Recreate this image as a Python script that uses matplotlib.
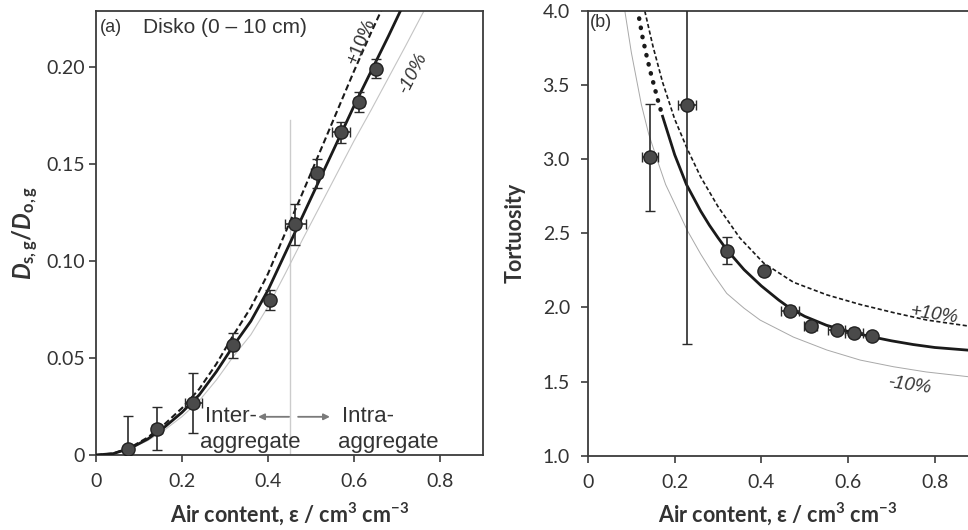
import matplotlib
matplotlib.use("Agg")
import matplotlib.pyplot as plt

plt.rcParams['font.family'] = ['Lato', 'DejaVu Sans']
plt.rcParams['mathtext.fontset'] = 'custom'
plt.rcParams['mathtext.it'] = 'Lato:bold:italic'
plt.rcParams['mathtext.rm'] = 'Lato:bold'
plt.rcParams['mathtext.bf'] = 'Lato:bold'

# ---------------- Panel (a) data ----------------
a_eps = [0.0744, 0.142, 0.226, 0.319, 0.405, 0.4636, 0.513, 0.570, 0.611, 0.651]
a_D = [0.003, 0.0136, 0.027, 0.0565, 0.080, 0.1189, 0.1452, 0.1664, 0.1821, 0.1993]
a_Derr = [0.017, 0.011, 0.0155, 0.0065, 0.005, 0.0105, 0.0077, 0.0055, 0.005, 0.005]
a_epserr = [0.005, 0.012, 0.02, 0.01, 0.005, 0.025, 0.012, 0.021, 0.012, 0.008]

a_fit_x = [0, 0.04, 0.08, 0.12, 0.16, 0.20, 0.24, 0.28, 0.32, 0.36, 0.40, 0.44,
           0.48, 0.52, 0.56, 0.60, 0.64, 0.68, 0.71]
a_fit_y = [0, 0.0007, 0.0035, 0.0082, 0.0145, 0.022, 0.031, 0.043, 0.0565, 0.069,
           0.085, 0.104, 0.123, 0.142, 0.161, 0.180, 0.198, 0.216, 0.230]
a_plus_x = [0, 0.04, 0.08, 0.12, 0.16, 0.20, 0.24, 0.28, 0.32, 0.36, 0.40, 0.44,
            0.48, 0.52, 0.56, 0.60, 0.64, 0.665]
a_plus_y = [0, 0.0008, 0.0039, 0.009, 0.016, 0.0242, 0.034, 0.047, 0.062, 0.076,
            0.0935, 0.1145, 0.135, 0.156, 0.177, 0.198, 0.218, 0.230]
a_minus_x = [0, 0.04, 0.08, 0.12, 0.16, 0.20, 0.24, 0.28, 0.32, 0.36, 0.40, 0.44,
             0.48, 0.52, 0.56, 0.60, 0.64, 0.68, 0.72, 0.765]
a_minus_y = [0, 0.0006, 0.0032, 0.0074, 0.013, 0.0198, 0.028, 0.0387, 0.051, 0.062,
             0.0765, 0.0935, 0.111, 0.128, 0.145, 0.162, 0.178, 0.1945, 0.211, 0.230]
a_boundary = 0.451
a_boundary_top = 0.1727

# ---------------- Panel (b) data ----------------
b_eps = [0.143, 0.229, 0.320, 0.405, 0.466, 0.514, 0.574, 0.614, 0.655]
b_tau = [3.013, 3.366, 2.383, 2.246, 1.978, 1.875, 1.848, 1.830, 1.807]
b_tauerr = [0.36, 1.61, 0.09, 0.03, 0.03, 0.02, 0.02, 0.03, 0.02]
b_epserr = [0.018, 0.021, 0.01, 0.005, 0.02, 0.015, 0.02, 0.02, 0.005]

b_fit_x = [0.172, 0.20, 0.227, 0.26, 0.28, 0.30, 0.32, 0.36, 0.40, 0.44, 0.466, 0.50,
           0.55, 0.60, 0.658, 0.70, 0.75, 0.80, 0.877]
b_fit_y = [3.29, 3.03, 2.83, 2.65, 2.555, 2.47, 2.39, 2.255, 2.145, 2.05, 1.995, 1.94,
           1.88, 1.838, 1.80, 1.775, 1.75, 1.73, 1.712]
b_ext_x = [0.118, 0.126, 0.135, 0.144, 0.153, 0.162, 0.172]
b_ext_y = [3.95, 3.82, 3.70, 3.59, 3.49, 3.39, 3.29]
b_plus_x = [0.131, 0.15, 0.172, 0.20, 0.229, 0.26, 0.30, 0.35, 0.405, 0.474, 0.551,
            0.628, 0.705, 0.782, 0.877]
b_plus_y = [4.0, 3.76, 3.52, 3.27, 3.07, 2.88, 2.68, 2.47, 2.30, 2.17, 2.085,
            2.02, 1.965, 1.915, 1.875]
b_minus_x = [0.085, 0.10, 0.123, 0.14, 0.158, 0.179, 0.20, 0.229, 0.26, 0.29, 0.32,
             0.36, 0.397, 0.474, 0.551, 0.628, 0.705, 0.78, 0.877]
b_minus_y = [4.0, 3.72, 3.37, 3.17, 3.01, 2.83, 2.70, 2.52, 2.36, 2.22, 2.095,
             1.995, 1.915, 1.80, 1.713, 1.645, 1.60, 1.565, 1.533]

x_ticks = [0, 0.2, 0.4, 0.6, 0.8]
x_ticklabels = ['0', '0.2', '0.4', '0.6', '0.8']
a_yticks = [0, 0.05, 0.10, 0.15, 0.20]
a_yticklabels = ['0', '0.05', '0.10', '0.15', '0.20']
b_yticks = [1.0, 1.5, 2.0, 2.5, 3.0, 3.5, 4.0]
b_yticklabels = ['1.0', '1.5', '2.0', '2.5', '3.0', '3.5', '4.0']

W, H = 968, 530
fig = plt.figure(figsize=(W / 100, H / 100), dpi=100)
ax1 = fig.add_axes([96 / W, (H - 455) / H, 387 / W, 444 / H])
ax2 = fig.add_axes([588 / W, (H - 455.7) / H, 380 / W, 444.7 / H])

spine_c = '#3c3c3c'
txt_c = '#333333'
mfc = '#4a4a4a'

def style(ax):
    for s in ax.spines.values():
        s.set_color(spine_c)
        s.set_linewidth(1.3)
    ax.tick_params(axis='both', colors=spine_c, labelcolor=txt_c, labelsize=14,
                   length=5, width=1.2, direction='out')
    ax.tick_params(axis='x', pad=8)

# ---------- (a) ----------
style(ax1)
ax1.tick_params(axis='y', pad=3)
ax1.plot(a_minus_x, a_minus_y, color='#c4c4c4', lw=0.8, zorder=2)
ax1.plot(a_plus_x, a_plus_y, color='#1a1a1a', lw=1.5, ls=(0, (3, 1.6)), zorder=2)
ax1.plot(a_fit_x, a_fit_y, color='#1a1a1a', lw=2.0, zorder=3)
ax1.plot([a_boundary, a_boundary], [0, a_boundary_top], color='#cccccc', lw=1.0, zorder=1)
ax1.errorbar(a_eps, a_D, yerr=a_Derr, xerr=a_epserr, fmt='o', ms=9.5, mfc=mfc,
             mec='#222222', mew=1.0, ecolor='#2a2a2a', elinewidth=1.2, capsize=3.5,
             capthick=1.2, zorder=4, clip_on=True)
ax1.set_xlim(0, 0.9)
ax1.set_ylim(0, 0.229)
ax1.set_xticks(x_ticks)
ax1.set_xticklabels(x_ticklabels)
ax1.set_yticks(a_yticks)
ax1.set_yticklabels(a_yticklabels)
ax1.set_xlabel('Air content, ε / cm$^{3}$ cm$^{-3}$', fontsize=15.5, fontweight='bold',
               color=txt_c, labelpad=7)
ax1.set_ylabel(r'$D_{\mathrm{s,g}}/D_{\mathrm{o,g}}$', fontsize=17, color=txt_c, labelpad=4)

lab = dict(family=['Liberation Sans', 'DejaVu Sans'], color=txt_c)
ax1.text(0.009, 0.2206, '(a)', fontsize=13, va='center', ha='left', **lab)
ax1.text(0.109, 0.2206, 'Disko (0 – 10 cm)', fontsize=15, va='center', ha='left', **lab)
ax1.text(0.618, 0.213, '+10%', fontsize=13.5, rotation=67, va='center', ha='center', **lab)
ax1.text(0.736, 0.197, '-10%', fontsize=13.5, rotation=63, va='center', ha='center',
         style='italic', **lab)
ax1.text(0.253, 0.0197, 'Inter-', fontsize=16, va='center', ha='left', **lab)
ax1.text(0.241, 0.0065, 'aggregate', fontsize=16, va='center', ha='left', **lab)
ax1.text(0.571, 0.0197, 'Intra-', fontsize=16, va='center', ha='left', **lab)
ax1.text(0.563, 0.0065, 'aggregate', fontsize=16, va='center', ha='left', **lab)
arrow_kw = dict(arrowstyle='-|>', color='#7a7a7a', lw=1.3, mutation_scale=9,
                shrinkA=0, shrinkB=0)
ax1.annotate('', xy=(0.377, 0.0197), xytext=(0.449, 0.0197), arrowprops=arrow_kw)
ax1.annotate('', xy=(0.544, 0.0197), xytext=(0.470, 0.0197), arrowprops=arrow_kw)

# ---------- (b) ----------
style(ax2)
ax2.spines['right'].set_visible(False)
ax2.tick_params(axis='y', pad=8)
ax2.plot(b_minus_x, b_minus_y, color='#a8a8a8', lw=0.7, zorder=2)
ax2.plot(b_plus_x, b_plus_y, color='#1a1a1a', lw=1.2, ls=(0, (2.5, 1.5)), zorder=2)
ax2.plot(b_fit_x, b_fit_y, color='#1a1a1a', lw=2.0, zorder=3)
ax2.plot(b_ext_x, b_ext_y, color='#1a1a1a', lw=3.2, ls=(0, (0.1, 2.0)),
         dash_capstyle='round', zorder=3)
ax2.errorbar(b_eps, b_tau, yerr=b_tauerr, xerr=b_epserr, fmt='o', ms=9.5, mfc=mfc,
             mec='#222222', mew=1.0, ecolor='#2a2a2a', elinewidth=1.2, capsize=3.5,
             capthick=1.2, zorder=4)
ax2.set_xlim(0, 380 / 433.5)
ax2.set_ylim(1.0, 4.0)
ax2.set_xticks(x_ticks)
ax2.set_xticklabels(x_ticklabels)
ax2.set_yticks(b_yticks)
ax2.set_yticklabels(b_yticklabels)
ax2.set_xlabel('Air content, ε / cm$^{3}$ cm$^{-3}$', fontsize=15.5, fontweight='bold',
               color=txt_c, labelpad=7)
ax2.set_ylabel('Tortuosity', fontsize=15.5, fontweight='bold', color=txt_c, labelpad=12)
ax2.text(0.005, 3.92, '(b)', fontsize=13, va='center', ha='left', **lab)
ax2.text(0.80, 1.949, '+10%', fontsize=13.5, rotation=-8, va='center', ha='center',
         style='italic', **lab)
ax2.text(0.74, 1.476, '-10%', fontsize=13.5, rotation=-8, va='center', ha='center',
         style='italic', **lab)

fig.savefig('out.png', dpi=100)
